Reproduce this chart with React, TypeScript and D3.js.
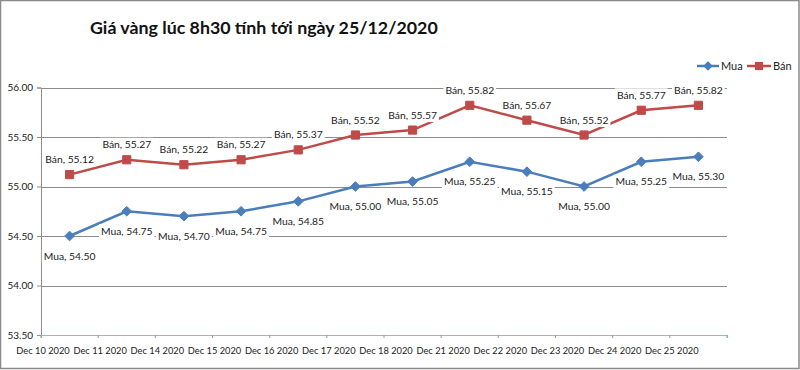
import React, { useEffect, useRef } from 'react';
import * as d3 from 'd3';

const dates = [
  'Dec 10 2020', 'Dec 11 2020', 'Dec 14 2020', 'Dec 15 2020', 'Dec 16 2020', 'Dec 17 2020',
  'Dec 18 2020', 'Dec 21 2020', 'Dec 22 2020', 'Dec 23 2020', 'Dec 24 2020', 'Dec 25 2020',
];
const mua = [54.5, 54.75, 54.7, 54.75, 54.85, 55.0, 55.05, 55.25, 55.15, 55.0, 55.25, 55.3];
const ban = [55.12, 55.27, 55.22, 55.27, 55.37, 55.52, 55.57, 55.82, 55.67, 55.52, 55.77, 55.82];
const yTicks = [53.5, 54.0, 54.5, 55.0, 55.5, 56.0];

const FONT = 'Lato, "Open Sans", sans-serif';
const BLUE = '#4a7ebb';
const RED = '#be4b48';

const App = () => {
  const ref = useRef<SVGSVGElement>(null);

  useEffect(() => {
    const svg = d3.select(ref.current);
    svg.selectAll('*').remove();

    const width = 800;
    const height = 370;
    const margin = { top: 87.5, right: 73, bottom: 35, left: 41 };

    svg.append('rect')
      .attr('x', 0.5).attr('y', 0.5)
      .attr('width', width - 1.5).attr('height', height - 2)
      .attr('fill', '#fff').attr('stroke', '#8a8a8a').attr('stroke-width', 1.5);

    const x = d3.scaleBand<string>()
      .domain(dates)
      .range([margin.left, width - margin.right]);

    const y = d3.scaleLinear()
      .domain([53.5, 56])
      .range([height - margin.bottom, margin.top]);

    const cx = (d: string) => (x(d) as number) + x.bandwidth() / 2;

    // grid
    svg.append('g')
      .selectAll('line')
      .data(yTicks.slice(1))
      .enter()
      .append('line')
      .attr('x1', margin.left).attr('x2', width - margin.right)
      .attr('y1', d => Math.round(y(d)) + 0.5).attr('y2', d => Math.round(y(d)) + 0.5)
      .attr('stroke', '#8c8c8c').attr('stroke-width', 1);

    // y axis
    const yAxis = svg.append('g')
      .attr('transform', `translate(${margin.left},0)`)
      .call(d3.axisLeft(y).tickValues(yTicks).tickFormat(d3.format('.2f')).tickSize(4));
    yAxis.select('.domain').attr('stroke', '#8c8c8c');
    yAxis.selectAll('.tick line').attr('stroke', '#8c8c8c');
    yAxis.selectAll('.tick text')
      .attr('x', -8)
      .attr('font-family', FONT).attr('font-size', 10).attr('fill', '#222');

    // x axis
    const xAxis = svg.append('g')
      .attr('transform', `translate(0,${height - margin.bottom})`)
      .call(d3.axisBottom(x).tickSize(3).tickFormat(() => ''));
    xAxis.select('.domain').attr('stroke', '#7fc3d0').attr('stroke-width', 1.2);
    xAxis.selectAll('.tick').attr('transform', d => `translate(${x(d as string)},0)`);
    xAxis.selectAll('.tick line').attr('stroke', '#9a9a9a');
    xAxis.append('line')
      .attr('x1', width - margin.right).attr('x2', width - margin.right)
      .attr('y1', 0).attr('y2', 3).attr('stroke', '#9a9a9a');

    svg.append('g')
      .selectAll('text')
      .data(dates)
      .enter()
      .append('text')
      .attr('x', d => (x(d) as number) + 2)
      .attr('y', height - margin.bottom + 19)
      .attr('text-anchor', 'middle')
      .attr('font-family', FONT).attr('font-size', 9.3).attr('fill', '#222')
      .text(d => d);

    const line = d3.line<number>()
      .x((_, i) => cx(dates[i]))
      .y(d => y(d));

    // series lines
    svg.append('path').datum(mua)
      .attr('d', line).attr('fill', 'none').attr('stroke', BLUE).attr('stroke-width', 2.5);
    svg.append('path').datum(ban)
      .attr('d', line).attr('fill', 'none').attr('stroke', RED).attr('stroke-width', 2.5);

    const diamond = d3.symbol().type(d3.symbolDiamond2).size(60);
    const square = d3.symbol().type(d3.symbolSquare2).size(85);

    svg.append('g').selectAll('path').data(mua).enter().append('path')
      .attr('d', diamond as any)
      .attr('transform', (d, i) => `translate(${cx(dates[i])},${y(d)})`)
      .attr('fill', BLUE).attr('stroke', BLUE).attr('stroke-width', 1);
    svg.append('g').selectAll('path').data(ban).enter().append('path')
      .attr('d', square as any)
      .attr('transform', (d, i) => `translate(${cx(dates[i])},${y(d)})`)
      .attr('fill', RED).attr('stroke', RED).attr('stroke-width', 1);

    // data labels with white backgrounds
    const addLabels = (vals: number[], name: string, dy: number) => {
      const g = svg.append('g');
      vals.forEach((v, i) => {
        const lg = g.append('g')
          .attr('transform', `translate(${cx(dates[i])},${y(v) + dy})`);
        const bg = lg.append('rect').attr('fill', '#fff');
        const t = lg.append('text')
          .attr('text-anchor', 'middle')
          .attr('dy', '0.35em')
          .attr('font-family', FONT).attr('font-size', 10.3).attr('fill', '#222')
          .text(`${name}, ${v.toFixed(2)}`);
        const w = (t.node() as SVGTextElement).getComputedTextLength();
        bg.attr('x', -w / 2 - 2).attr('y', -7).attr('width', w + 4).attr('height', 14);
      });
    };
    addLabels(ban, 'Bán', -15);
    addLabels(mua, 'Mua', 20);

    // title
    svg.append('text')
      .attr('x', 90).attr('y', 34)
      .attr('font-family', FONT).attr('font-size', 17.8).attr('font-weight', 'bold').attr('fill', '#111')
      .text('Giá vàng lúc 8h30 tính tới ngày 25/12/2020');

    // legend
    const legend = svg.append('g').attr('transform', 'translate(697,66)');
    legend.append('line').attr('x1', 0).attr('x2', 22).attr('y1', 0).attr('y2', 0)
      .attr('stroke', BLUE).attr('stroke-width', 2.5);
    legend.append('path').attr('d', diamond as any).attr('transform', 'translate(11,0)').attr('fill', BLUE);
    legend.append('text').attr('x', 24).attr('y', 0).attr('dy', '0.35em')
      .attr('font-family', FONT).attr('font-size', 11).attr('fill', '#222').text('Mua');
    legend.append('line').attr('x1', 50).attr('x2', 74).attr('y1', 0).attr('y2', 0)
      .attr('stroke', RED).attr('stroke-width', 2.5);
    legend.append('path').attr('d', square as any).attr('transform', 'translate(62,0)').attr('fill', RED);
    legend.append('text').attr('x', 76).attr('y', 0).attr('dy', '0.35em')
      .attr('font-family', FONT).attr('font-size', 11).attr('fill', '#222').text('Bán');
  }, []);

  return (
    <svg
      ref={ref}
      width={800}
      height={370}
      style={{ position: 'absolute', left: 0, top: 0, display: 'block' }}
    />
  );
};

export default App;
